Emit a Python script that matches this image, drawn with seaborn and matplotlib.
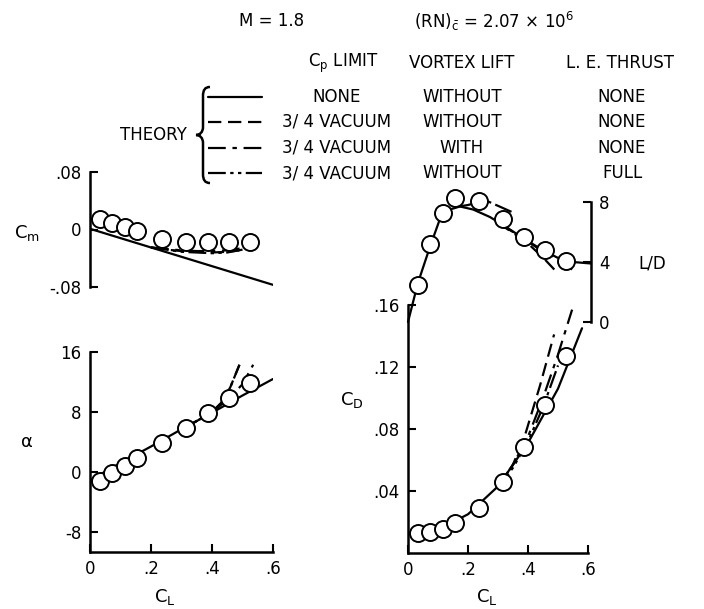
import numpy as np
import matplotlib.pyplot as plt
import seaborn as sns
from matplotlib.path import Path
from matplotlib.patches import PathPatch

# --- experimental points (circles) ---
cl_exp = [0.033, 0.073, 0.115, 0.155, 0.235, 0.315, 0.387, 0.455, 0.525]
cm_exp = [0.014, 0.009, 0.004, -0.002, -0.013, -0.018, -0.018, -0.018, -0.018]
alpha_exp = [-1.2, -0.2, 0.8, 1.8, 3.9, 5.8, 7.9, 9.9, 11.9]
cd_exp = [0.0129, 0.0135, 0.0155, 0.0194, 0.029, 0.0458, 0.0684, 0.0955, 0.127]
ld_exp = [2.5, 5.2, 7.3, 8.3, 8.1, 6.9, 5.7, 4.8, 4.1]

# --- theory, solid: Cp limit none, without vortex lift, no thrust ---
cl_solid = [0.0, 0.1, 0.2, 0.3, 0.4, 0.5, 0.6]
cm_solid = [0.001, -0.012, -0.025, -0.038, -0.051, -0.064, -0.077]
alpha_solid = [-1.1, 1.2, 3.4, 5.7, 7.9, 10.2, 12.4]
cl_cd_solid = [0.0, 0.1, 0.2, 0.3, 0.4, 0.5, 0.58]
cd_solid = [0.012, 0.015, 0.025, 0.043, 0.071, 0.106, 0.145]
cl_ld_solid = [0.0, 0.033, 0.073, 0.107, 0.14, 0.173, 0.217, 0.273, 0.33,
               0.383, 0.44, 0.497, 0.55, 0.61]
ld_solid = [0.0, 2.6, 5.0, 6.9, 7.5, 7.7, 7.5, 7.0, 6.3, 5.6, 4.9, 4.3, 4.0, 3.9]

# --- theory, dashed: 3/4 vacuum, without, none ---
cl_cm_dash = [0.2, 0.25, 0.3, 0.35, 0.4, 0.45, 0.49]
cm_dash = [-0.025, -0.028, -0.030, -0.031, -0.032, -0.031, -0.029]
cl_a_dash = [0.3, 0.35, 0.4, 0.43, 0.46, 0.49]
alpha_dash = [5.7, 6.8, 8.0, 9.2, 11.3, 14.3]
cl_cd_dash = [0.3, 0.35, 0.39, 0.44, 0.487]
cd_dash = [0.043, 0.057, 0.076, 0.108, 0.141]
cl_ld_dash = [0.3, 0.35, 0.407, 0.45, 0.497]
ld_dash = [6.6, 5.95, 5.1, 4.3, 3.3]

# --- theory, dash-dot: 3/4 vacuum, with vortex lift, none ---
cl_cm_dd = [0.2, 0.25, 0.3, 0.35, 0.4, 0.45, 0.5, 0.52]
cm_dd = [-0.025, -0.027, -0.029, -0.030, -0.030, -0.029, -0.026, -0.022]
cl_a_dd = [0.3, 0.35, 0.4, 0.45, 0.5, 0.535]
alpha_dd = [5.7, 6.8, 8.0, 9.6, 11.7, 14.3]
cl_cd_dd = [0.3, 0.35, 0.4, 0.45, 0.5, 0.547]
cd_dd = [0.043, 0.057, 0.075, 0.100, 0.128, 0.157]
cl_ld_dd = [0.3, 0.35, 0.45, 0.5, 0.547]
ld_dd = [6.6, 6.0, 4.7, 4.2, 3.5]

# --- theory, dash-dot-dot: 3/4 vacuum, without, full thrust ---
cl_cm_ddd = [0.2, 0.3, 0.4, 0.45, 0.5]
cm_ddd = [-0.025, -0.031, -0.033, -0.032, -0.028]
cl_a_ddd = [0.3, 0.35, 0.4, 0.43, 0.46, 0.49]
alpha_ddd = [5.7, 6.8, 8.0, 9.2, 11.3, 14.3]
cl_cd_ddd = [0.3, 0.35, 0.4, 0.45, 0.5]
cd_ddd = [0.042, 0.055, 0.072, 0.094, 0.121]
cl_ld_ddd = [0.17, 0.2, 0.26, 0.35]
ld_ddd = [7.7, 7.8, 8.1, 7.3]

W, H = 704, 609

sns.set_style("ticks")
plt.rcParams["font.family"] = ["Liberation Sans Narrow", "DejaVu Sans"]
plt.rcParams["font.size"] = 12
plt.rcParams["text.color"] = "black"
plt.rcParams["xtick.color"] = "black"
plt.rcParams["ytick.color"] = "black"
plt.rcParams["axes.edgecolor"] = "black"
plt.rcParams["mathtext.fontset"] = "custom"
plt.rcParams["mathtext.rm"] = "Liberation Sans Narrow"
plt.rcParams["mathtext.it"] = "Liberation Sans Narrow"

fig = plt.figure(figsize=(W / 100, H / 100), dpi=100)


def rect(x0, y0, x1, y1):
    return [x0 / W, 1 - y1 / H, (x1 - x0) / W, (y1 - y0) / H]


def fx(x):
    return x / W


def fy(y):
    return 1 - y / H


styles = {
    "solid": "-",
    "dash": (0, (6, 3)),
    "dd": (0, (8, 3, 2, 3)),
    "ddd": (0, (8, 2, 1.5, 2, 1.5, 2)),
}


def style_axes(ax):
    ax.set_facecolor("none")
    ax.tick_params(direction="in", length=6, width=1.5, labelsize=12, pad=6)
    for s in ax.spines.values():
        s.set_linewidth(1.8)


def theory(ax, x, y, key, clip=True):
    sns.lineplot(x=x, y=y, ax=ax, color="black", linewidth=1.6,
                 linestyle=styles[key], sort=False, estimator=None, clip_on=clip)


def circles(ax, x, y):
    sns.scatterplot(x=x, y=y, ax=ax, s=150, facecolor="white",
                    edgecolor="black", linewidth=1.4, zorder=5, clip_on=False)


def fmt(v):
    s = f"{v:g}"
    return s.replace("0.", ".")


# Cm vs CL
ax_cm = fig.add_axes(rect(90, 172, 273, 287))
style_axes(ax_cm)
theory(ax_cm, cl_solid, cm_solid, "solid")
theory(ax_cm, cl_cm_dash, cm_dash, "dash")
theory(ax_cm, cl_cm_dd, cm_dd, "dd")
theory(ax_cm, cl_cm_ddd, cm_ddd, "ddd")
circles(ax_cm, cl_exp, cm_exp)
ax_cm.set_xlim(0, 0.6)
ax_cm.set_ylim(-0.08, 0.08)
ax_cm.set_yticks([-0.08, 0, 0.08])
ax_cm.set_yticklabels(["-.08", "0", ".08"])
ax_cm.set_xticks([])
for s in ["top", "right", "bottom"]:
    ax_cm.spines[s].set_visible(False)

# alpha vs CL
ax_a = fig.add_axes(rect(90, 352, 273, 552))
style_axes(ax_a)
theory(ax_a, cl_solid, alpha_solid, "solid")
theory(ax_a, cl_a_dash, alpha_dash, "dash")
theory(ax_a, cl_a_dd, alpha_dd, "dd")
theory(ax_a, cl_a_ddd, alpha_ddd, "ddd")
circles(ax_a, cl_exp, alpha_exp)
ax_a.set_xlim(0, 0.6)
ax_a.set_ylim(-10.67, 16)
ax_a.set_yticks([-8, 0, 8, 16])
ax_a.set_yticklabels(["-8", "0", "8", "16"])
ax_a.set_xticks([0, 0.2, 0.4, 0.6])
ax_a.set_xticklabels(["0", ".2", ".4", ".6"])
for s in ["top", "right"]:
    ax_a.spines[s].set_visible(False)

# CD vs CL
ax_cd = fig.add_axes(rect(408, 305, 588, 553))
style_axes(ax_cd)
theory(ax_cd, cl_cd_solid, cd_solid, "solid")
theory(ax_cd, cl_cd_dash, cd_dash, "dash")
theory(ax_cd, cl_cd_dd, cd_dd, "dd")
theory(ax_cd, cl_cd_ddd, cd_ddd, "ddd")
circles(ax_cd, cl_exp, cd_exp)
ax_cd.set_xlim(0, 0.6)
ax_cd.set_ylim(0, 0.16)
ax_cd.set_yticks([0.04, 0.08, 0.12, 0.16])
ax_cd.set_yticklabels([fmt(v) for v in [0.04, 0.08, 0.12, 0.16]])
ax_cd.set_xticks([0, 0.2, 0.4, 0.6])
ax_cd.set_xticklabels(["0", ".2", ".4", ".6"])
for s in ["top", "right"]:
    ax_cd.spines[s].set_visible(False)

# L/D vs CL
ax_ld = fig.add_axes(rect(408, 202, 591, 322))
style_axes(ax_ld)
theory(ax_ld, cl_ld_solid, ld_solid, "solid", clip=False)
theory(ax_ld, cl_ld_dash, ld_dash, "dash", clip=False)
theory(ax_ld, cl_ld_dd, ld_dd, "dd", clip=False)
theory(ax_ld, cl_ld_ddd, ld_ddd, "ddd", clip=False)
circles(ax_ld, cl_exp, ld_exp)
ax_ld.set_xlim(0, 0.61)
ax_ld.set_ylim(0, 8)
ax_ld.yaxis.tick_right()
ax_ld.set_yticks([0, 4, 8])
ax_ld.set_yticklabels(["0", "4", "8"])
ax_ld.set_xticks([])
for s in ["top", "left", "bottom"]:
    ax_ld.spines[s].set_visible(False)

for ax in [ax_cm, ax_a, ax_cd, ax_ld]:
    ax.set_xlabel("")
    ax.set_ylabel("")

# axis labels
fig.text(fx(27), fy(233), r"C$_\mathrm{m}$", ha="center", va="center", fontsize=13)
fig.text(fx(27), fy(442), "α", ha="center", va="center", fontsize=13)
fig.text(fx(352), fy(400), r"C$_\mathrm{D}$", ha="center", va="center", fontsize=13)
fig.text(fx(652), fy(263), "L/D", ha="center", va="center", fontsize=12)
fig.text(fx(165), fy(597), r"C$_\mathrm{L}$", ha="center", va="center", fontsize=13)
fig.text(fx(487), fy(597), r"C$_\mathrm{L}$", ha="center", va="center", fontsize=13)

# header and legend
fig.text(fx(272), fy(21), "M = 1.8", ha="center", va="center", fontsize=12)
fig.text(fx(414), fy(21), r"(RN)$_\bar{\mathrm{c}}$ = 2.07 × 10$^{6}$",
         ha="left", va="center", fontsize=12)
fig.text(fx(343), fy(63), r"C$_\mathrm{p}$ LIMIT", ha="center", va="center", fontsize=12)
fig.text(fx(462), fy(63), "VORTEX LIFT", ha="center", va="center", fontsize=12)
fig.text(fx(620), fy(63), "L. E. THRUST", ha="center", va="center", fontsize=12)

rows_y = [97, 122, 148, 173]
col1 = ["NONE", "3/ 4 VACUUM", "3/ 4 VACUUM", "3/ 4 VACUUM"]
col2 = ["WITHOUT", "WITHOUT", "WITH", "WITHOUT"]
col3 = ["NONE", "NONE", "NONE", "FULL"]
keys = ["solid", "dash", "dd", "ddd"]
for yy, a, b, c, k in zip(rows_y, col1, col2, col3, keys):
    fig.add_artist(plt.Line2D([fx(208), fx(262)], [fy(yy), fy(yy)],
                              color="black", linewidth=1.6, linestyle=styles[k]))
    fig.text(fx(337), fy(yy), a, ha="center", va="center", fontsize=12)
    fig.text(fx(462), fy(yy), b, ha="center", va="center", fontsize=12)
    fig.text(fx(622), fy(yy), c, ha="center", va="center", fontsize=12)

fig.text(fx(153), fy(135), "THEORY", ha="center", va="center", fontsize=12)

# brace
top, bot, xb = 87, 183, 203
mid = (top + bot) / 2
verts = [(xb + 7, top), (xb + 2, top), (xb, top + 3), (xb, top + 9),
         (xb, mid - 8), (xb, mid - 3), (xb - 3, mid), (xb - 7, mid),
         (xb - 3, mid), (xb, mid + 3), (xb, mid + 8),
         (xb, bot - 9), (xb, bot - 3), (xb + 2, bot), (xb + 7, bot)]
codes = [Path.MOVETO, Path.CURVE4, Path.CURVE4, Path.CURVE4,
         Path.LINETO, Path.CURVE4, Path.CURVE4, Path.CURVE4,
         Path.CURVE4, Path.CURVE4, Path.CURVE4,
         Path.LINETO, Path.CURVE4, Path.CURVE4, Path.CURVE4]
brace = Path([(fx(x), fy(y)) for x, y in verts], codes)
fig.add_artist(PathPatch(brace, transform=fig.transFigure, facecolor="none",
                         edgecolor="black", linewidth=1.8))

fig.savefig("out.png", dpi=100)
